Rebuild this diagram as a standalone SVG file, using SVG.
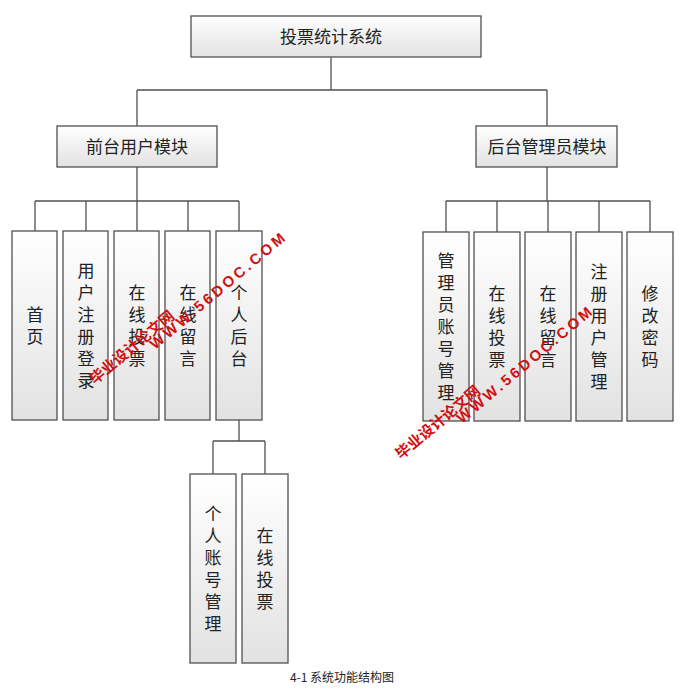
<svg xmlns="http://www.w3.org/2000/svg" width="684" height="693" viewBox="0 0 684 693">
<defs>
<linearGradient id="g" x1="0" y1="0" x2="0" y2="1"><stop offset="0" stop-color="#ffffff"/><stop offset="1" stop-color="#e2e2e2"/></linearGradient>
</defs>
<style>
.b{fill:url(#g);stroke:#505050;stroke-width:1.3}
.t{font-family:"Noto Sans CJK SC","Noto Sans CJK JP",sans-serif;font-size:17px;fill:#222;text-anchor:middle}
.vt{font-family:"Noto Sans CJK SC","Noto Sans CJK JP",sans-serif;font-size:17px;fill:#222;text-anchor:middle;writing-mode:vertical-rl;letter-spacing:5px}
.c{fill:none;stroke:#505050;stroke-width:1.3}
.w{font-family:"Liberation Sans","Noto Sans CJK SC",sans-serif;font-weight:bold;font-size:15px;fill:#d01010}
</style>
<rect width="684" height="693" fill="#fff"/>
<g id="connectors" class="c">
<path d="M331 57V90M137 90H547M137 90V126M547 90V126"/>
<path d="M137 167V201M35 201H239M35 201V231M86 201V231M137 201V231M188 201V231M239 201V231"/>
<path d="M547 167V201M446 201H650M446 201V232M497 201V232M548 201V232M599 201V232M650 201V232"/>
<path d="M239 420V441M213 441H265M213 441V474M265 441V474"/>
</g>
<g id="root"><rect class="b" x="191" y="16" width="290" height="41"/><text class="t" x="331" y="43">投票统计系统</text></g>
<g id="front"><rect class="b" x="57" y="126" width="160" height="41"/><text class="t" x="137" y="153">前台用户模块</text></g>
<g id="back"><rect class="b" x="476" y="126" width="141" height="41"/><text class="t" x="547" y="153">后台管理员模块</text></g>
<g id="n1"><rect class="b" x="12" y="231" width="45" height="189"/><text class="vt" x="35" y="328">首页</text></g>
<g id="n2"><rect class="b" x="63" y="231" width="45" height="189"/><text class="vt" x="86" y="328">用户注册登录</text></g>
<g id="n3"><rect class="b" x="114" y="231" width="45" height="189"/><text class="vt" x="137" y="328">在线投票</text></g>
<g id="n4"><rect class="b" x="165" y="231" width="45" height="189"/><text class="vt" x="188" y="328">在线留言</text></g>
<g id="n5"><rect class="b" x="216" y="231" width="46" height="189"/><text class="vt" x="239" y="328">个人后台</text></g>
<g id="n6"><rect class="b" x="190" y="474" width="46" height="189"/><text class="vt" x="213" y="571">个人账号管理</text></g>
<g id="n7"><rect class="b" x="242" y="474" width="46" height="189"/><text class="vt" x="265" y="571">在线投票</text></g>
<g id="m1"><rect class="b" x="423" y="232" width="46" height="189"/><text class="vt" x="446" y="329">管理员账号管理</text></g>
<g id="m2"><rect class="b" x="474" y="232" width="46" height="189"/><text class="vt" x="497" y="329">在线投票</text></g>
<g id="m3"><rect class="b" x="525" y="232" width="46" height="189"/><text class="vt" x="548" y="329">在线留言</text></g>
<g id="m4"><rect class="b" x="576" y="232" width="46" height="189"/><text class="vt" x="599" y="329">注册用户管理</text></g>
<g id="m5"><rect class="b" x="627" y="232" width="46" height="189"/><text class="vt" x="650" y="329">修改密码</text></g>
<text x="342" y="682" font-family="'Noto Sans CJK SC',sans-serif" font-size="12" text-anchor="middle" fill="#222">4-1 系统功能结构图</text>
<g id="watermark">
<text class="w" transform="translate(95,385) rotate(-40)">毕业设计论文网</text>
<text class="w" letter-spacing="3" transform="translate(155,350) rotate(-40)">WWW.56DOC.COM</text>
<text class="w" transform="translate(401,460) rotate(-40)">毕业设计论文网</text>
<text class="w" letter-spacing="3" transform="translate(462,424) rotate(-40)">WWW.56DOC.COM</text>
</g>
</svg>
